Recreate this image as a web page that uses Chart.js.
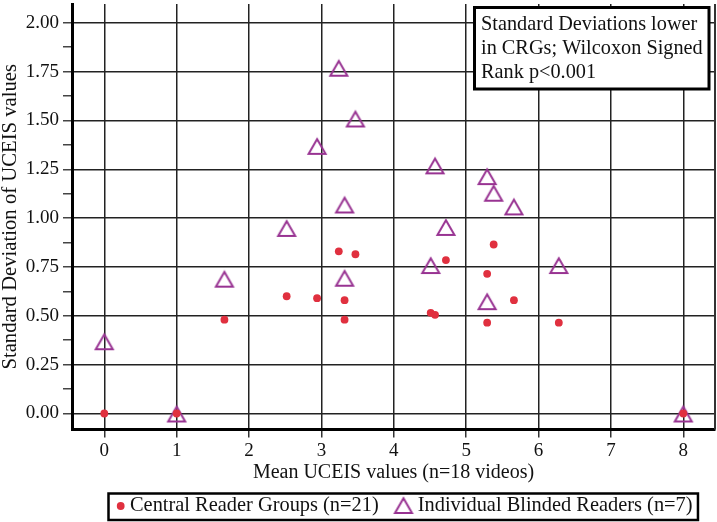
<!DOCTYPE html>
<html>
<head>
<meta charset="utf-8">
<script src="https://cdn.jsdelivr.net/npm/chart.js@4.4.1/dist/chart.umd.min.js"></script>
<style>
  html, body { margin: 0; padding: 0; background: #fff; }
  #wrap { position: relative; width: 717px; height: 522px; }
</style>
</head>
<body>
<div id="wrap"><canvas id="chart-canvas"></canvas></div>
<script>
// mean UCEIS per video (shared x for both groups)
const meanUceis = [0, 1, 1.66, 2.52, 2.94, 3.24, 3.32, 3.32, 3.47, 4.51, 4.57, 4.72, 5.29, 5.29, 5.38, 5.66, 6.28, 8];
const crgSD = [0, 0, 0.48, 0.60, 0.59, 0.83, 0.58, 0.48, 0.815, 0.515, 0.505, 0.785, 0.715, 0.465, 0.865, 0.58, 0.465, 0];
const ibrSD = [0.37, 0, 0.69, 0.95, 1.37, 1.77, 1.07, 0.695, 1.51, 0.76, 1.27, 0.955, 1.215, 0.575, 1.13, 1.06, 0.76, 0];
const seriesNames = ['Central Reader Groups (n=21)', 'Individual Blinded Readers (n=7)'];
const xTicks = ['0', '1', '2', '3', '4', '5', '6', '7', '8'];
const yTicks = ['0.00', '0.25', '0.50', '0.75', '1.00', '1.25', '1.50', '1.75', '2.00'];
const noteLines = ['Standard Deviations lower', 'in CRGs; Wilcoxon Signed', 'Rank p<0.001'];

const RED = '#e0303f';
const PURPLE = '#983392';
const FONT = '"Liberation Serif", "Times New Roman", serif';

Chart.defaults.font.family = FONT;
Chart.defaults.color = '#111';

// hollow triangle, centred on its bounding box
function makeTriangle(color) {
  const c = document.createElement('canvas');
  c.width = 24; c.height = 22;
  const g = c.getContext('2d');
  g.strokeStyle = color;
  g.lineWidth = 2;
  g.beginPath();
  g.moveTo(12, 4.2);
  g.lineTo(20.5, 18.9);
  g.lineTo(3.5, 18.9);
  g.closePath();
  g.stroke();
  return c;
}
const triangle = makeTriangle(PURPLE);

const toPoints = (ys) => meanUceis.map((x, i) => ({ x: x, y: ys[i] }));
const near = (a, b) => Math.abs(a - b) < 1e-6;
const yMajor = yTicks.map(Number);
const yMinor = yMajor.slice(1).map((v) => v - 0.125);
const xMajor = xTicks.map(Number);

// ticks from the label arrays, plus empty ones on the bounds so labels add no padding
const ownTicks = (values) => (s) => {
  s.ticks = [s.min].concat(values.slice().sort((a, b) => a - b), [s.max]).map((v) => ({ value: v }));
};

const frame = {
  id: 'frame',
  beforeDatasetsDraw(chart) {
    const { ctx, chartArea } = chart;
    ctx.save();
    ctx.strokeStyle = '#333';
    ctx.lineWidth = 2;
    ctx.beginPath();
    ctx.moveTo(chartArea.right, chartArea.top);
    ctx.lineTo(chartArea.right, chartArea.bottom);
    ctx.stroke();
    ctx.restore();
  },
  afterDraw(chart) {
    const ctx = chart.ctx;
    ctx.save();
    // note box
    ctx.fillStyle = '#fff';
    ctx.fillRect(474.5, 7.5, 234.5, 81.5);
    ctx.strokeStyle = '#000';
    ctx.lineWidth = 3;
    ctx.strokeRect(474.5, 7.5, 234.5, 81.5);
    ctx.fillStyle = '#111';
    ctx.font = '20.3px ' + FONT;
    ctx.textBaseline = 'middle';
    noteLines.forEach((t, i) => ctx.fillText(t, 481, 25 + i * 23.8));

    // legend
    ctx.font = '20.4px ' + FONT;
    const ly = 506;
    const dotX = 120.7;
    const t1 = dotX + 9.3;
    const w1 = ctx.measureText(seriesNames[0]).width;
    const triX = t1 + w1 + 24.7;
    const t2 = triX + 14.3;
    const w2 = ctx.measureText(seriesNames[1]).width;
    const right = t2 + w2 + 5.4;
    ctx.fillStyle = '#fff';
    ctx.fillRect(108.5, 493.5, right - 108.5, 26.5);
    ctx.strokeStyle = '#000';
    ctx.lineWidth = 2.5;
    ctx.strokeRect(108.5, 493.5, right - 108.5, 26.5);
    ctx.fillStyle = RED;
    ctx.beginPath();
    ctx.arc(dotX, ly, 3.9, 0, Math.PI * 2);
    ctx.fill();
    ctx.drawImage(triangle, triX - triangle.width / 2, ly - 1 - triangle.height / 2);
    ctx.fillStyle = '#111';
    ctx.fillText(seriesNames[0], t1, ly);
    ctx.fillText(seriesNames[1], t2, ly);
    ctx.restore();
  }
};

let ctx = document.getElementById('chart-canvas');
let chart = new Chart(ctx, {
  type: 'scatter',
  data: {
    datasets: [
      {
        label: seriesNames[0],
        data: toPoints(crgSD),
        pointStyle: 'circle',
        pointRadius: 3.9,
        pointBackgroundColor: RED,
        pointBorderWidth: 0
      },
      {
        label: seriesNames[1],
        data: toPoints(ibrSD),
        pointStyle: triangle,
        pointRadius: 9,
        pointBorderWidth: 0
      }
    ]
  },
  options: {
    responsive: true,
    maintainAspectRatio: false,
    animation: false,
    layout: { autoPadding: false, padding: { left: 0, right: 2, top: 0, bottom: 37 } },
    plugins: {
      legend: { display: false },
      tooltip: { enabled: false }
    },
    scales: {
      x: {
        type: 'linear',
        min: -0.446,
        max: 8.438,
        afterBuildTicks: ownTicks(xMajor),
        afterFit: (s) => { s.height = 55.5; },
        border: { color: '#000', width: 3 },
        grid: {
          color: (c) => (c.tick && xMajor.some((v) => near(v, c.tick.value))) ? '#222' : 'rgba(0,0,0,0)',
          tickColor: (c) => (c.tick && xMajor.some((v) => near(v, c.tick.value))) ? '#333' : 'rgba(0,0,0,0)',
          lineWidth: 1.5,
          tickLength: 8,
          tickWidth: 1.5
        },
        ticks: {
          autoSkip: false,
          maxRotation: 0,
          padding: 2,
          font: { size: 19 },
          callback: (v) => {
            const i = xMajor.findIndex((m) => near(m, v));
            return i >= 0 ? xTicks[i] : [];
          }
        },
        title: {
          display: true,
          text: 'Mean UCEIS values (n=18 videos)',
          font: { size: 20 },
          padding: { top: 0, bottom: 0.5 }
        }
      },
      y: {
        type: 'linear',
        min: -0.082,
        max: 2.096,
        afterBuildTicks: ownTicks(yMajor.concat(yMinor)),
        afterFit: (s) => { s.width = 72; },
        border: { color: '#000', width: 3 },
        grid: {
          color: (c) => (c.tick && yMajor.some((v) => near(v, c.tick.value))) ? '#222' : 'rgba(0,0,0,0)',
          tickColor: (c) => (c.tick && (yMajor.concat(yMinor)).some((v) => near(v, c.tick.value))) ? '#444' : 'rgba(0,0,0,0)',
          lineWidth: 1.5,
          tickLength: 9,
          tickWidth: 1.5
        },
        ticks: {
          autoSkip: false,
          padding: 4,
          font: { size: 19 },
          callback: (v) => {
            const i = yMajor.findIndex((m) => near(m, v));
            if (i >= 0) return yTicks[i];
            return yMinor.some((m) => near(m, v)) ? '' : [];
          }
        },
        title: {
          display: true,
          text: 'Standard Deviation of UCEIS values',
          font: { size: 20.7 },
          padding: { top: -1.5, bottom: 0 }
        }
      }
    }
  },
  plugins: [frame]
});
</script>
</body>
</html>
